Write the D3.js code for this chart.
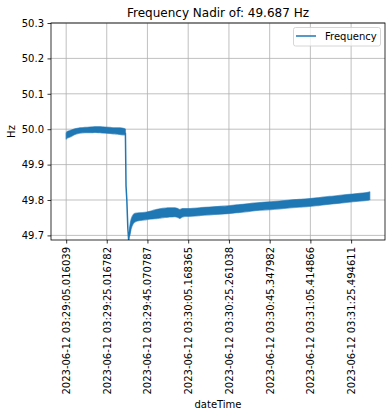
<!DOCTYPE html>
<html><head><meta charset="utf-8">
<script src="https://cdn.jsdelivr.net/npm/d3@7"></script>
<style>body{margin:0;background:#fff;} text{font-family:"DejaVu Sans",sans-serif;}</style>
</head><body>
<svg id="c" width="392" height="416"></svg>
<script>
// seconds after 2023-06-12 03:29:05.016039
const bandTimes = [0, 0.3, 1.9, 4.3, 6.8, 9.2, 11.7, 14.2, 16.7, 19.1, 21.6, 24.0, 26.5, 28.6, 29.2];
const bandLow   = [49.972, 49.974, 49.978, 49.985, 49.989, 49.990, 49.990, 49.991, 49.990, 49.989, 49.988, 49.987, 49.985, 49.984, 49.984];
const bandHigh  = [49.988, 49.992, 49.996, 50.001, 50.004, 50.005, 50.006, 50.007, 50.007, 50.006, 50.005, 50.004, 50.004, 50.002, 50.000];
const dropTimes = [29.2, 29.5, 29.9, 30.4, 30.8, 31.2, 31.6];
const dropValues= [49.99, 49.84, 49.80, 49.72, 49.687, 49.705, 49.725];
const band2Times = [31.4, 32.0, 33.9, 36.3, 38.8, 41.3, 43.7, 46.2, 48.7, 51.1, 53.6, 55.0, 56.0, 57.3, 58.5, 61.0, 65.9, 70.8, 75.8, 80.7, 85.6, 90.5, 95.5, 100.4, 105.3, 110.2, 115.1, 120.1, 125.0, 129.9, 134.9, 139.8, 144.7, 148.2, 149.7];
const band2Low   = [49.700, 49.718, 49.738, 49.742, 49.744, 49.746, 49.747, 49.749, 49.751, 49.752, 49.753, 49.751, 49.748, 49.752, 49.754, 49.754, 49.756, 49.758, 49.760, 49.762, 49.765, 49.768, 49.771, 49.773, 49.775, 49.778, 49.780, 49.782, 49.785, 49.788, 49.791, 49.794, 49.797, 49.799, 49.801];
const band2High  = [49.728, 49.745, 49.762, 49.764, 49.765, 49.768, 49.772, 49.775, 49.777, 49.778, 49.778, 49.776, 49.773, 49.776, 49.776, 49.776, 49.778, 49.780, 49.782, 49.784, 49.787, 49.790, 49.793, 49.795, 49.797, 49.800, 49.802, 49.804, 49.807, 49.810, 49.813, 49.816, 49.819, 49.821, 49.823];
const tickTimes = [0, 20.000743, 40.054748, 60.152326, 80.244999, 100.331943, 120.398827, 140.478572];
const tickLabels = ["2023-06-12 03:29:05.016039","2023-06-12 03:29:25.016782","2023-06-12 03:29:45.070787","2023-06-12 03:30:05.168365","2023-06-12 03:30:25.261038","2023-06-12 03:30:45.347982","2023-06-12 03:31:05.414866","2023-06-12 03:31:25.494611"];
const yTicks = [49.7, 49.8, 49.9, 50.0, 50.1, 50.2, 50.3];
const nadir = 49.687;

const svg = d3.select("#c");
const L = 51, R = 385, T = 23, B = 240;
const tMax = 149.7, pad = tMax * 0.05;
const x = d3.scaleLinear().domain([-pad, tMax + pad]).range([L, R]);
const y = d3.scaleLinear().domain([nadir, 50.3]).range([B, T]);
const col = "#1f77b4";

// grid
const g = svg.append("g");
g.selectAll(".vg").data(tickTimes).enter().append("line")
  .attr("x1", d => x(d)).attr("x2", d => x(d)).attr("y1", T).attr("y2", B)
  .attr("stroke", "#b0b0b0").attr("stroke-width", 0.8);
g.selectAll(".hg").data(yTicks).enter().append("line")
  .attr("x1", L).attr("x2", R).attr("y1", d => y(d)).attr("y2", d => y(d))
  .attr("stroke", "#b0b0b0").attr("stroke-width", 0.8);

const clip = svg.append("clipPath").attr("id", "cp").append("rect")
  .attr("x", L).attr("y", T).attr("width", R - L).attr("height", B - T);
const plot = svg.append("g").attr("clip-path", "url(#cp)");

function band(ts, lo, hi) {
  const d = ts.map((t, i) => [t, lo[i], hi[i]]);
  plot.append("path").datum(d)
    .attr("d", d3.area().curve(d3.curveMonotoneX).x(p => x(p[0])).y0(p => y(p[1])).y1(p => y(p[2])))
    .attr("fill", col).attr("stroke", col).attr("stroke-width", 1.2).attr("stroke-opacity", 0.6)
    .attr("stroke-linejoin", "round");
}
band(bandTimes, bandLow, bandHigh);
plot.append("path").datum(dropTimes.map((t, i) => [t, dropValues[i]]))
  .attr("d", d3.line().x(p => x(p[0])).y(p => y(p[1])))
  .attr("fill", "none").attr("stroke", col).attr("stroke-width", 1.5);
band(band2Times, band2Low, band2High);

// axes
const xAxis = d3.axisBottom(x).tickValues(tickTimes).tickFormat((d, i) => tickLabels[i]).tickSize(3.5).tickPadding(3.5);
const xa = svg.append("g").attr("transform", `translate(0,${B})`).call(xAxis);
xa.select(".domain").remove();
xa.selectAll(".tick line").attr("stroke", "#000").attr("stroke-width", 0.8);
xa.selectAll(".tick text").attr("font-size", 10).attr("fill", "#000")
  .attr("font-family", "DejaVu Sans")
  .attr("transform", "rotate(-90)").attr("text-anchor", "end")
  .attr("x", -7).attr("y", 0).attr("dy", "0.35em");

const yAxis = d3.axisLeft(y).tickValues(yTicks).tickFormat(d3.format(".1f")).tickSize(3.5).tickPadding(3.5);
const ya = svg.append("g").attr("transform", `translate(${L},0)`).call(yAxis);
ya.select(".domain").remove();
ya.selectAll(".tick line").attr("stroke", "#000").attr("stroke-width", 0.8);
ya.selectAll(".tick text").attr("font-size", 10).attr("fill", "#000").attr("font-family", "DejaVu Sans");

svg.append("rect").attr("x", L).attr("y", T).attr("width", R - L).attr("height", B - T)
  .attr("fill", "none").attr("stroke", "#000").attr("stroke-width", 0.8);

svg.append("text").attr("x", (L + R) / 2).attr("y", 17).attr("text-anchor", "middle")
  .attr("font-size", 12).text("Frequency Nadir of: " + nadir.toFixed(3) + " Hz");
svg.append("text").attr("transform", `translate(15,${(T + B) / 2}) rotate(-90)`)
  .attr("text-anchor", "middle").attr("font-size", 10).text("Hz");
svg.append("text").attr("x", (L + R) / 2).attr("y", 408).attr("text-anchor", "middle")
  .attr("font-size", 10).text("dateTime");

// legend
const lg = svg.append("g");
lg.append("rect").attr("x", 293.5).attr("y", 27.5).attr("width", 87).attr("height", 18.5).attr("rx", 2)
  .attr("fill", "#fff").attr("fill-opacity", 0.8).attr("stroke", "#cccccc").attr("stroke-width", 0.8);
lg.append("line").attr("x1", 296).attr("x2", 316).attr("y1", 36).attr("y2", 36)
  .attr("stroke", col).attr("stroke-width", 1.5);
lg.append("text").attr("x", 325).attr("y", 39.5).attr("font-size", 10).text("Frequency");
</script>
</body></html>
